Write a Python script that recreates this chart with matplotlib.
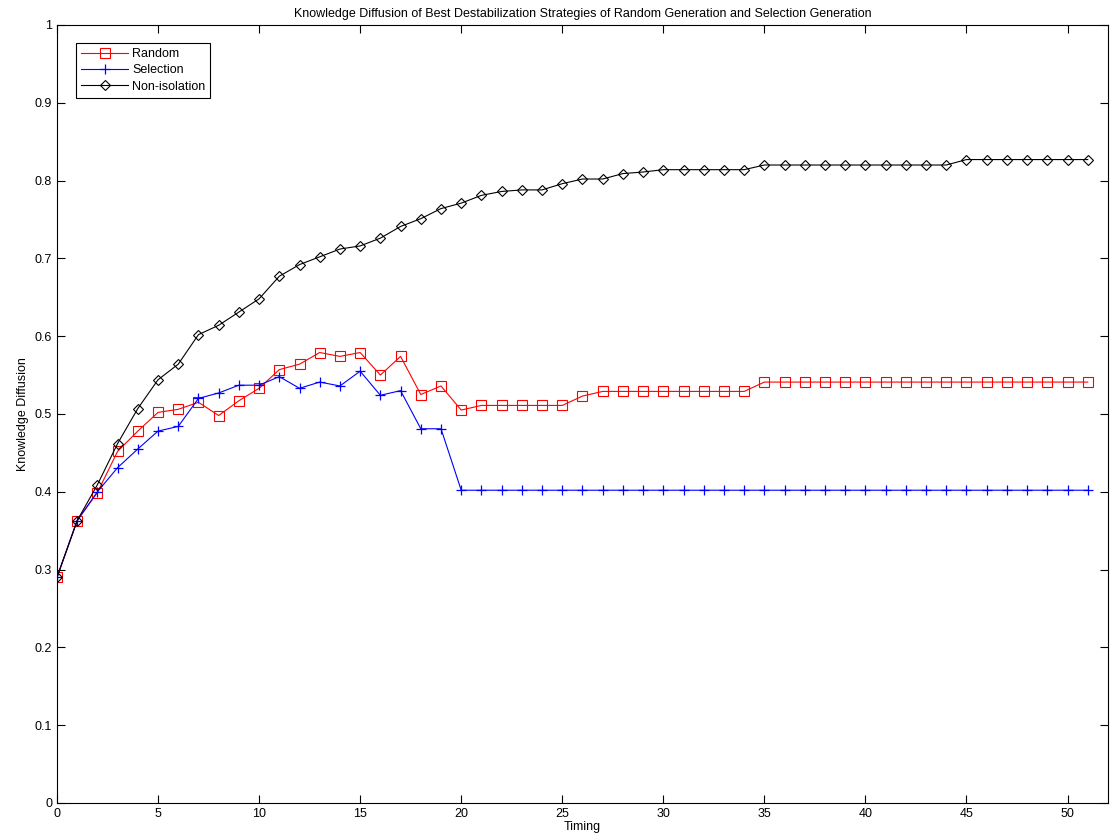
import matplotlib
matplotlib.use("Agg")
import matplotlib.pyplot as plt
import numpy as np

plt.rcParams['font.family'] = ['Liberation Sans', 'DejaVu Sans']

timing = list(range(0, 52))

random_vals = [0.290, 0.363, 0.399, 0.452, 0.478, 0.502, 0.506, 0.515, 0.498, 0.517,
               0.533, 0.557, 0.564, 0.579, 0.574, 0.579, 0.550, 0.574, 0.525, 0.536,
               0.505, 0.511, 0.511, 0.511, 0.511, 0.511, 0.523, 0.529, 0.529, 0.529,
               0.529, 0.529, 0.529, 0.529, 0.529, 0.541, 0.541, 0.541, 0.541, 0.541,
               0.541, 0.541, 0.541, 0.541, 0.541, 0.541, 0.541, 0.541, 0.541, 0.541,
               0.541, 0.541]

selection_vals = [0.290, 0.363, 0.400, 0.431, 0.455, 0.478, 0.484, 0.520, 0.527, 0.537,
                  0.537, 0.548, 0.533, 0.541, 0.536, 0.555, 0.524, 0.530, 0.481, 0.481,
                  0.402] + [0.402] * 31

nonisolation_vals = [0.290, 0.363, 0.409, 0.462, 0.507, 0.544, 0.564, 0.602, 0.614, 0.631,
                     0.648, 0.677, 0.692, 0.702, 0.712, 0.716, 0.726, 0.741, 0.751, 0.764,
                     0.771, 0.781, 0.786, 0.788, 0.788, 0.796, 0.802, 0.802, 0.809, 0.811,
                     0.814, 0.814, 0.814, 0.814, 0.814, 0.820, 0.820, 0.820, 0.820, 0.820,
                     0.820, 0.820, 0.820, 0.820, 0.820, 0.827, 0.827, 0.827, 0.827, 0.827,
                     0.827, 0.827]

fig = plt.figure(figsize=(11.15, 8.38), dpi=100)
ax = fig.add_axes([0.0511, 0.0418, 0.9426, 0.9284])

ax.plot(timing, random_vals, color='#ff0000', marker='s', markersize=6.5,
        markerfacecolor='none', markeredgecolor='#ff0000', linewidth=0.8,
        markeredgewidth=0.8, label='Random')
ax.plot(timing, selection_vals, color='#0000ff', marker='+', markersize=7,
        linewidth=0.8, markeredgewidth=0.9, label='Selection')
ax.plot(timing, nonisolation_vals, color='black', marker='D', markersize=5.5,
        markerfacecolor='none', markeredgecolor='black', linewidth=0.8,
        markeredgewidth=0.8, label='Non-isolation')

ax.set_xlim(0, 52)
ax.set_ylim(0, 1)
ax.set_xticks(np.arange(0, 51, 5))
ax.set_yticks(np.arange(0, 1.01, 0.1))
ax.set_yticklabels(['0', '0.1', '0.2', '0.3', '0.4', '0.5', '0.6', '0.7', '0.8', '0.9', '1'])
ax.tick_params(direction='in', top=True, right=True, labelsize=9, length=6, width=0.8)
for s in ax.spines.values():
    s.set_linewidth(0.8)

ax.set_xlabel('Timing', fontsize=9, labelpad=1)
ax.set_ylabel('Knowledge Diffusion', fontsize=9, labelpad=4)
ax.set_title('Knowledge Diffusion of Best Destabilization Strategies of Random Generation and Selection Generation',
             fontsize=9, pad=6)

leg = ax.legend(loc='upper left', bbox_to_anchor=(0.012, 0.985), fontsize=9,
                fancybox=False, edgecolor='black', framealpha=1,
                handlelength=3.8, borderpad=0.4, labelspacing=0.35, handletextpad=0.3)
leg.get_frame().set_linewidth(0.8)

fig.savefig('out.png', dpi=100)
